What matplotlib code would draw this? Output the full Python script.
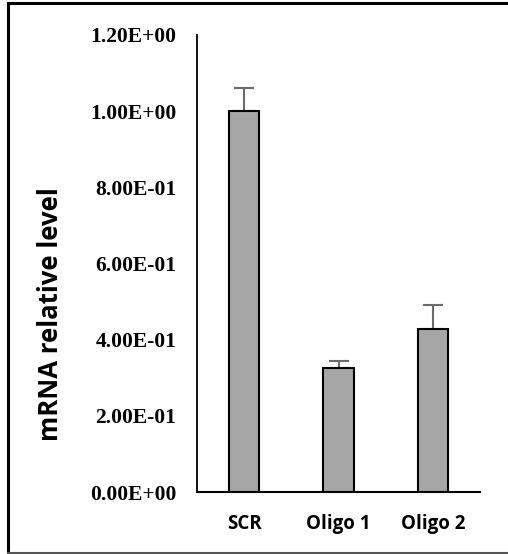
import matplotlib
matplotlib.use("Agg")
import matplotlib.pyplot as plt
from matplotlib.lines import Line2D
import numpy as np

categories = ["SCR", "Oligo 1", "Oligo 2"]
values = [1.0, 0.325, 0.428]
errors = [0.062, 0.02, 0.063]
yticks = [0.0, 0.2, 0.4, 0.6, 0.8, 1.0, 1.2]

fig = plt.figure(figsize=(5.08, 5.54), dpi=100)
ax = fig.add_axes([197/508, 62/554, 283/508, 457/554])

x = np.arange(len(categories))
ax.bar(x, values, width=0.32, color="#a6a6a6", edgecolor="black", linewidth=1.5, zorder=2)
ax.errorbar(x, values, yerr=[np.zeros(len(errors)), errors], fmt="none",
            ecolor="#6b6b6b", elinewidth=1.5, capsize=7, capthick=1.5, zorder=1)

ax.set_xlim(-0.5, 2.5)
ax.set_ylim(0, 1.2)
ax.set_yticks(yticks)
ax.set_yticklabels(["%.2E" % v for v in yticks], fontfamily="Liberation Serif",
                   fontweight="bold", fontsize=15.5)
ax.set_xticks(x)
ax.set_xticklabels(categories, fontfamily="Open Sans", fontweight="bold", fontsize=13.5)
ax.tick_params(axis="y", length=0, pad=15)
ax.tick_params(axis="x", length=0, pad=16)
for s in ["top", "right"]:
    ax.spines[s].set_visible(False)
ax.spines["left"].set_linewidth(1.3)
ax.spines["bottom"].set_linewidth(1.5)

fig.text(51/508, 1 - 314/554, "mRNA relative level", rotation=90, ha="center", va="center",
         fontfamily="Open Sans", fontweight="bold", fontsize=18.5)

# frame around the picture (no right edge)
fig.add_artist(Line2D([8/508, 8/508], [1/554, 551.5/554], color="black", linewidth=2.2, transform=fig.transFigure))
fig.add_artist(Line2D([8/508, 1], [551.5/554, 551.5/554], color="black", linewidth=2.2, transform=fig.transFigure))
fig.add_artist(Line2D([8/508, 1], [1.5/554, 1.5/554], color="#555555", linewidth=1.5, transform=fig.transFigure))

fig.savefig("out.png", dpi=100)
